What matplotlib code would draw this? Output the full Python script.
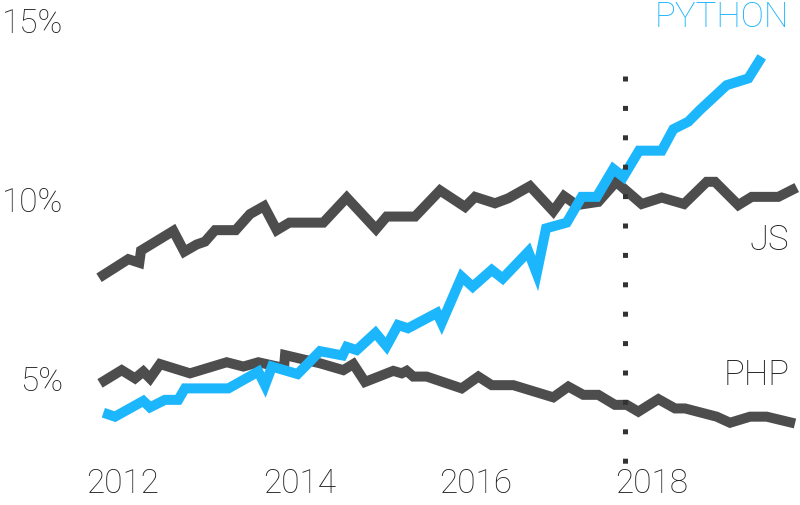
import matplotlib
matplotlib.use("Agg")
import matplotlib.pyplot as plt

# ---- data (year, share %) ----
js_x = [2011.728, 2012.060, 2012.185, 2012.204, 2012.571, 2012.695, 2012.836, 2012.930,
        2013.044, 2013.278, 2013.441, 2013.600, 2013.744, 2013.887, 2014.272, 2014.538,
        2014.870, 2014.991, 2015.313, 2015.596, 2015.880, 2015.993, 2016.220, 2016.371,
        2016.617, 2016.881, 2017.003, 2017.147, 2017.392, 2017.593, 2017.884, 2018.111,
        2018.364, 2018.622, 2018.716, 2018.980, 2019.132, 2019.434, 2019.643]
js_y = [7.80, 8.32, 8.22, 8.56, 9.11, 8.53, 8.73, 8.81,
        9.13, 9.13, 9.58, 9.80, 9.13, 9.34, 9.34, 10.04,
        9.16, 9.51, 9.51, 10.24, 9.78, 10.06, 9.88, 10.02,
        10.36, 9.66, 10.08, 9.83, 9.92, 10.48, 9.86, 10.04,
        9.86, 10.48, 10.48, 9.83, 10.06, 10.06, 10.32]

py_x = [2011.777, 2011.909, 2012.230, 2012.306, 2012.476, 2012.627, 2012.703, 2013.195,
        2013.535, 2013.611, 2013.690, 2013.980, 2014.235, 2014.490, 2014.538, 2014.651,
        2014.864, 2014.989, 2015.120, 2015.233, 2015.562, 2015.615, 2015.842, 2015.967,
        2016.183, 2016.307, 2016.598, 2016.693, 2016.799, 2017.033, 2017.204, 2017.374,
        2017.562, 2017.676, 2017.854, 2018.111, 2018.243, 2018.413, 2018.546, 2018.848,
        2019.094, 2019.246]
py_y = [4.03, 3.92, 4.36, 4.18, 4.39, 4.39, 4.71, 4.71,
        5.18, 4.80, 5.32, 5.11, 5.75, 5.63, 5.87, 5.78,
        6.26, 5.89, 6.48, 6.39, 6.82, 6.54, 7.83, 7.55,
        8.02, 7.78, 8.53, 7.92, 9.18, 9.34, 10.06, 10.06,
        10.84, 10.62, 11.35, 11.35, 11.95, 12.16, 12.49, 13.18,
        13.37, 13.97]

php_x = [2011.739, 2011.985, 2012.136, 2012.230, 2012.306, 2012.420, 2012.760, 2013.176,
         2013.365, 2013.535, 2013.826, 2013.838, 2014.235, 2014.499, 2014.613, 2014.745,
         2015.066, 2015.162, 2015.218, 2015.293, 2015.445, 2015.842, 2016.031, 2016.183,
         2016.428, 2016.881, 2017.052, 2017.222, 2017.392, 2017.581, 2017.714, 2017.846,
         2018.073, 2018.262, 2018.376, 2018.735, 2018.886, 2019.113, 2019.302, 2019.623]
php_y = [4.85, 5.22, 4.99, 5.18, 4.99, 5.39, 5.13, 5.44,
         5.32, 5.44, 5.28, 5.64, 5.41, 5.22, 5.39, 4.89,
         5.20, 5.13, 5.20, 5.04, 5.04, 4.71, 5.04, 4.80,
         4.80, 4.46, 4.76, 4.53, 4.53, 4.25, 4.25, 4.06,
         4.41, 4.15, 4.15, 3.92, 3.75, 3.92, 3.92, 3.73]

marker_year = 2017.69
year_ticks = [2012, 2014, 2016, 2018]
year_labels = ["2012", "2014", "2016", "2018"]
pct_ticks = [5, 10, 15]
pct_labels = ["5%", "10%", "15%"]

GRAY = "#4d4d4d"
BLUE = "#1cb6fd"
TEXT = "#1e1e1e"

plt.rcParams['font.family'] = ['Roboto', 'DejaVu Sans']

fig = plt.figure(figsize=(8, 5.05), dpi=100)
fig.patch.set_facecolor("white")
ax = fig.add_axes([0.1, 40 / 505, 0.9, 465 / 505])
ax.set_xlim(2011.512, 2019.680)
ax.set_ylim(2.570, 15.559)

lw = 7.2
common = dict(solid_joinstyle="miter", solid_capstyle="butt", clip_on=False)
ax.plot(js_x, js_y, color=GRAY, lw=lw, zorder=2, **common)
ax.plot(php_x, php_y, color=GRAY, lw=lw, zorder=2, **common)
ax.plot(py_x, py_y, color=BLUE, lw=lw, zorder=3, **common)

ax.plot([marker_year, marker_year], [13.44, 2.61], color="#333333", lw=3.6,
        linestyle=(0, (1, 4.88)), dash_capstyle="butt", zorder=4, clip_on=False)

for s in ax.spines.values():
    s.set_visible(False)
ax.set_xticks(year_ticks)
ax.set_xticklabels(year_labels)
ax.set_yticks(pct_ticks)
ax.set_yticklabels(pct_labels)
ax.tick_params(axis="both", length=0, labelsize=24, labelcolor=TEXT)
ax.tick_params(axis="y", pad=12)
ax.tick_params(axis="x", pad=2.5)
for lab in ax.get_xticklabels() + ax.get_yticklabels():
    lab.set_fontweight("light")

tx = 2019.56
ax.text(tx, 14.80, "PYTHON", color=BLUE, fontsize=25, fontweight="light",
        ha="right", va="baseline")
ax.text(tx, 8.575, "JS", color=TEXT, fontsize=25, fontweight="light",
        ha="right", va="baseline")
ax.text(tx, 4.80, "PHP", color=TEXT, fontsize=25, fontweight="light",
        ha="right", va="baseline")

fig.savefig("out.png", dpi=100)
